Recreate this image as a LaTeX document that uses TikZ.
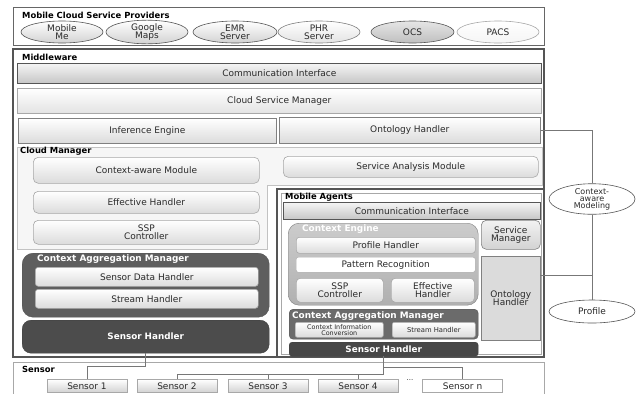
\documentclass[tikz,border=0pt]{standalone}
\usepackage{fontspec}
\setmainfont{DejaVu Sans}
\usetikzlibrary{shapes.geometric}
\definecolor{dk}{HTML}{555555}
\definecolor{tx}{HTML}{2A2A2A}
\definecolor{lb}{HTML}{A8A8A8}
\newcommand\bx[7]{\node[#1,anchor=north west,minimum width={(#5-#3)*1pt},minimum height={(#6-#4)*1pt}] (#2) at (#3,#4) {#7};}
\tikzset{
  base/.style={inner sep=0pt,text=tx,font=\fontsize{9}{9.5}\selectfont,align=center},
  lbar/.style={base,draw=lb,line width=.6pt,top color=white,bottom color=gray!28},
  rbar/.style={lbar,rounded corners=5pt},
  dbar/.style={base,draw=dk,line width=.8pt,top color=gray!8,bottom color=gray!45},
  darkbox/.style={base,text=white,font=\bfseries\fontsize{8.8}{9}\selectfont},
  ttl/.style={inner sep=0pt,anchor=west,text=black,font=\bfseries\fontsize{8.4}{9}\selectfont},
  wttl/.style={inner sep=0pt,anchor=west,text=white,font=\bfseries\fontsize{8.9}{9}\selectfont},
  ell/.style={base,ellipse,draw=dk,line width=.6pt,minimum height=22pt},
  sens/.style={base,draw=lb,line width=.6pt,top color=white,bottom color=gray!35,minimum width=80pt,minimum height=13pt,anchor=north},
  wire/.style={draw=dk!80,line width=.6pt},
}
\begin{document}
\begin{tikzpicture}[x=1pt,y=-1pt]
\useasboundingbox (0,0) rectangle (644,394);
% Providers
\draw[draw=gray!80!black,line width=1pt,fill=white] (13,7) rectangle (544,45);
\node[ttl] (lprov) at (22,15.5) {Mobile Cloud Service Providers};
\node[ell,minimum width=82pt,top color=white,bottom color=gray!35] (e1) at (62,32) {Mobile\\[-1.5pt]Me};
\node[ell,minimum width=82pt,top color=white,bottom color=gray!35] (e2) at (147,32) {Google\\[-1.5pt]Maps};
\node[ell,minimum width=84pt,top color=white,bottom color=gray!35] (e3) at (235,32) {EMR\\[-1.5pt]Server};
\node[ell,minimum width=82pt,draw=gray,top color=white,bottom color=gray!22] (e4) at (319,32) {PHR\\[-1.5pt]Server};
\node[ell,minimum width=83pt,top color=gray!20,bottom color=gray!50] (e5) at (412.5,32) {OCS};
\node[ell,minimum width=82pt,draw=lb,top color=white,bottom color=gray!8] (e6) at (498,32) {PACS};
% Middleware
\draw[draw=dk,line width=2pt,fill=white] (13,49) -- (544,49) -- (544,189) -- (277,189) -- (277,357) -- (13,357) -- cycle;
\node[ttl] (lmw) at (22,57) {Middleware};
\bx{dbar}{ci1}{17}{63}{541}{83}{Communication Interface}
\bx{lbar,bottom color=gray!22}{csm}{17}{88}{541}{113}{Cloud Service Manager}
\bx{lbar,draw=gray}{ie}{18}{118}{276}{143}{Inference Engine}
\bx{lbar,draw=gray}{oh1}{279}{117}{540}{143}{Ontology Handler}
% Cloud manager region
\draw[draw=lb!70,line width=.6pt,fill=gray!7] (17,147) -- (542,147) -- (542,185) -- (267,185) -- (267,249) -- (17,249) -- cycle;
\node[ttl] (lcm) at (20,151) {Cloud Manager};
\bx{rbar}{cam1}{33}{157}{259}{183}{Context-aware Module}
\bx{rbar}{sam}{283}{156}{538}{177}{Service Analysis Module}
\bx{rbar}{eh1}{33}{191}{259}{213}{Effective Handler}
\bx{rbar}{ssp1}{33}{220}{259}{244}{SSP\\[-1pt]Controller}
% Left aggregation
\bx{base,draw=dk,fill=gray!60!black!90,rounded corners=11pt}{cagm1}{22}{253}{269}{317}{}
\node[wttl] (lcagm1) at (37,259) {Context Aggregation Manager};
\bx{rbar,rounded corners=3pt}{sdh}{35}{267}{258}{286}{Sensor Data Handler}
\bx{rbar,rounded corners=3pt}{sth1}{35}{289}{258}{308}{Stream Handler}
\bx{darkbox,draw=black!75,fill=black!70,rounded corners=9pt}{sh1}{22}{320}{269}{353}{Sensor Handler}
% Mobile agents
\draw[draw=dk,line width=1.5pt,fill=white] (277,189) rectangle (544,357);
\draw[draw=lb,line width=.5pt] (281,193) rectangle (541,354);
\node[ttl] (lma) at (285,197) {Mobile Agents};
\bx{dbar}{ci2}{283}{202}{540}{219}{Communication Interface}
\bx{base,draw=gray,top color=gray!40,bottom color=gray!62,rounded corners=11pt}{ce}{288}{223}{478}{305}{}
\node[wttl] (lce) at (302,229) {Context Engine};
\bx{rbar,rounded corners=3pt}{ph}{296}{237}{475}{253}{Profile Handler}
\bx{base,draw=lb,fill=white,rounded corners=2pt}{pr}{296}{257}{475}{272}{Pattern Recognition}
\bx{rbar,rounded corners=4pt}{ssp2}{296}{278}{383}{302}{SSP\\[-1pt]Controller}
\bx{rbar,rounded corners=4pt}{eh2}{391}{278}{474}{302}{Effective\\[-1pt]Handler}
\bx{rbar,top color=gray!10,bottom color=gray!35,draw=gray}{sm}{481}{220}{540}{249}{Service\\[-1pt]Manager}
\bx{base,draw=gray,fill=gray!28}{oh2}{481}{256}{540}{340}{Ontology\\[-1pt]Handler}
\bx{base,draw=dk,fill=black!58,rounded corners=4pt}{cagm2}{289}{309}{478}{339}{}
\node[wttl] (lcagm2) at (292,316) {Context Aggregation Manager};
\bx{rbar,rounded corners=2pt,font=\fontsize{6.4}{6.4}\selectfont}{cic}{295}{322}{383}{337}{Context Information\\[-0.5pt]Conversion}
\bx{rbar,rounded corners=2pt,font=\fontsize{6.8}{7}\selectfont}{sth2}{392}{322}{475}{337}{Stream Handler}
\bx{darkbox,draw=black!75,fill=black!72,rounded corners=3pt}{sh2}{289}{342}{478}{356}{Sensor Handler}
% Sensors
\draw[draw=lb,line width=.6pt,fill=white] (13,362) -- (13,393.5) (13,362) -- (544,362) -- (544,393.5);
\node[ttl] (lsen) at (22,369) {Sensor};
\node[sens] (s1) at (87,379) {Sensor 1};
\node[sens] (s2) at (177,379) {Sensor 2};
\node[sens] (s3) at (268,379) {Sensor 3};
\node[sens] (s4) at (358,379) {Sensor 4};
\node[base,font=\fontsize{7}{8}\selectfont] (dots) at (410,380) {...};
\node[sens,top color=white,bottom color=white] (sn) at (462.5,379) {Sensor n};
\coordinate (k1) at (0,366);
\coordinate (k2) at (0,374);
\coordinate (k3) at (0,367.5);
\draw[wire] (sh1.south) -- (sh1.south |- k1) -| (s1.north);
\draw[wire] (sh2.south) -- (sh2.south |- k2) -| (s2.north);
\draw[wire] (sh2.south |- k2) -| (s3.north);
\draw[wire] (sh2.south |- k2) -| (s4.north);
\draw[wire] (sh2.south |- k3) -| (sn.north);
% Right side
\node[ell,minimum width=86pt,minimum height=30pt,fill=white,font=\fontsize{8}{8}\selectfont] (cmod) at (592,199) {Context-\\[-1pt]aware\\[-1pt]Modeling};
\node[ell,minimum width=86pt,minimum height=23pt,fill=white] (prof) at (592,311.5) {Profile};
\coordinate (j2) at (592,275);
\draw[wire] (oh1.east) -| (cmod.north);
\draw[wire] (cmod.south) -- (prof.north);
\draw[wire] (oh2.east |- j2) -- (j2);
\end{tikzpicture}
\end{document}
